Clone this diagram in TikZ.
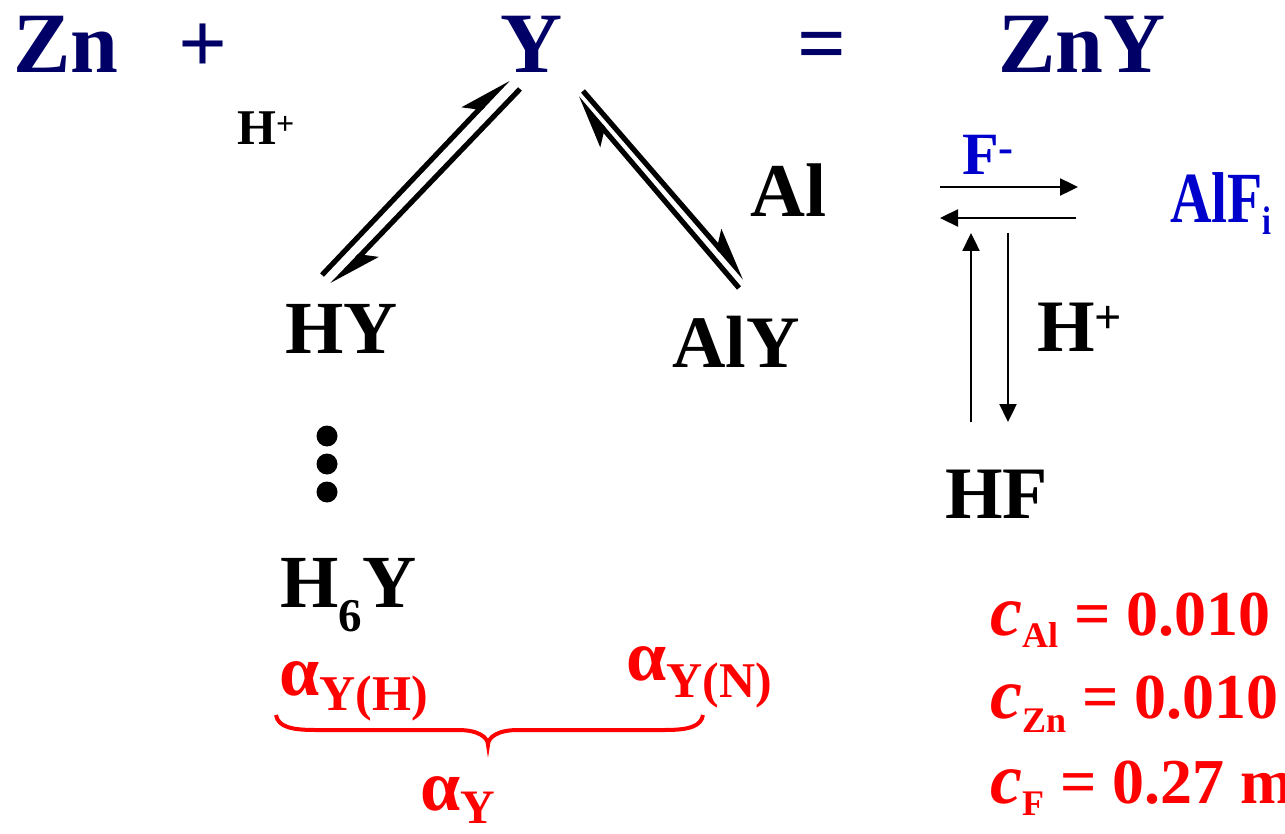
\documentclass[tikz,border=0pt]{standalone}
\usepackage{fontspec}
\setmainfont{Liberation Serif}
\usetikzlibrary{arrows.meta}
\definecolor{navy}{RGB}{0,0,102}
\definecolor{chemblue}{RGB}{0,0,204}
\definecolor{chemred}{RGB}{255,0,0}
\newcommand{\fs}[1]{\fontsize{#1}{#1}\selectfont}
\begin{document}
\begin{tikzpicture}[x=1pt,y=-1pt,
  txt/.style={inner sep=0pt, anchor=base west},
  toptxt/.style={txt, text=navy, font=\bfseries\fs{86}},
  chem/.style={txt, text=black, font=\bfseries\fs{75}},
  bluetxt/.style={txt, text=chemblue, font=\bfseries\fs{60}},
  redtxt/.style={txt, text=chemred, font=\bfseries\fs{64}},
  harp/.style={line width=5.2pt, -{Stealth[harpoon,length=44pt,width=28pt,inset=10pt]}},
  thinarrow/.style={line width=2.4pt, -{Triangle[length=18pt,width=17pt]}},
  bracestyle/.style={draw=chemred, line width=4pt}]
\useasboundingbox (0,0) rectangle (1285,834);
% top equation
\node[toptxt] (zn) at (13,73) {Zn};
\node[toptxt] (plus) at (178,73) {+};
\node[toptxt] (y) at (500,73) {Y};
\node[toptxt] (eq) at (797,73) {=};
\node[toptxt] (zny) at (998,73) {ZnY};
% species
\node[txt, font=\bfseries\fs{50}] (hplus) at (237,145) {H\raisebox{10pt}{\fs{32}+}};
\node[chem, font=\bfseries\fs{76}] (al) at (750,217) {Al};
\node[chem] (hy) at (285,353) {HY};
\node[chem, font=\bfseries\fs{74}] (aly) at (672,367) {AlY};
\node[chem] (h6y) at (280,607) {H\raisebox{-24pt}{\fs{47}6}Y};
\node[chem, font=\bfseries\fs{74}] (hf) at (945,518) {HF};
\node[chem, font=\bfseries\fs{74}] (hplusr) at (1037,352) {H\raisebox{18pt}{\fs{48}+}};
\node[bluetxt] (fminus) at (962,175) {F\raisebox{12pt}{\fs{45}-}};
\node[bluetxt, font=\bfseries\fs{72}] (alfi) at (1170,223) {\scalebox{0.8}[1]{AlF\raisebox{-12pt}{\fs{40}i}}};
% dots
\fill (327,436) circle (10.5) coordinate (dot1);
\fill (327,464) circle (10.5) coordinate (dot2);
\fill (327,492) circle (10.5) coordinate (dot3);
% harpoon coordinates
\coordinate (hyA) at (322,275);
\coordinate (yA) at (508,79);
\coordinate (yB) at (520,89);
\coordinate (hyB) at (332,285);
\coordinate (yC) at (583,91);
\coordinate (alyC) at (745,278);
\coordinate (alyD) at (739,288);
\coordinate (yD) at (577,98);
\draw[harp] (hyA) -- (yA);
\draw[harp] (yB) -- (hyB);
\draw[harp] (yC) -- (alyC);
\draw[harp] (alyD) -- (yD);
% F- / HF arrows
\coordinate (fA) at (940,187);
\coordinate (fB) at (1078,187);
\coordinate (fC) at (1076,218);
\coordinate (fD) at (940,218);
\coordinate (hfA) at (971,422);
\coordinate (hfB) at (971,233);
\coordinate (hfC) at (1008,233);
\coordinate (hfD) at (1008,422);
\draw[thinarrow] (fA) -- (fB);
\draw[thinarrow] (fC) -- (fD);
\draw[thinarrow] (hfA) -- (hfB);
\draw[thinarrow] (hfC) -- (hfD);
% alpha labels
\node[redtxt, font=\bfseries\fs{72}] (ayh) at (279,695) {α\raisebox{-15pt}{\fs{50}Y(H)}};
\node[redtxt, font=\bfseries\fs{72}] (ayn) at (626,680) {α\raisebox{-17pt}{\fs{50}Y(N)}};
\node[redtxt, font=\bfseries\fs{72}] (ay) at (420,810) {α\raisebox{-13pt}{\fs{48}Y}};
% brace
\coordinate (brL) at (276,715);
\coordinate (brT) at (488,745);
\coordinate (brR) at (703,715);
\draw[bracestyle] (brL) .. controls (278,727) and (292,730) .. (315,730) -- (458,730)
  .. controls (478,730) and (488,737) .. (brT)
  .. controls (488,737) and (498,730) .. (518,730) -- (665,730)
  .. controls (690,730) and (701,726) .. (brR);
% concentrations
\node[redtxt] (cal) at (990,635) {{\fs{72}\itshape c}\raisebox{-12pt}{\fs{36}Al} = 0.010};
\node[redtxt] (czn) at (990,718) {{\fs{72}\itshape c}\raisebox{-14pt}{\fs{36}Zn} = 0.010};
\node[redtxt] (cf) at (990,803) {{\fs{72}\itshape c}\raisebox{-12pt}{\fs{36}F} = 0.27 m};
\end{tikzpicture}
\end{document}
